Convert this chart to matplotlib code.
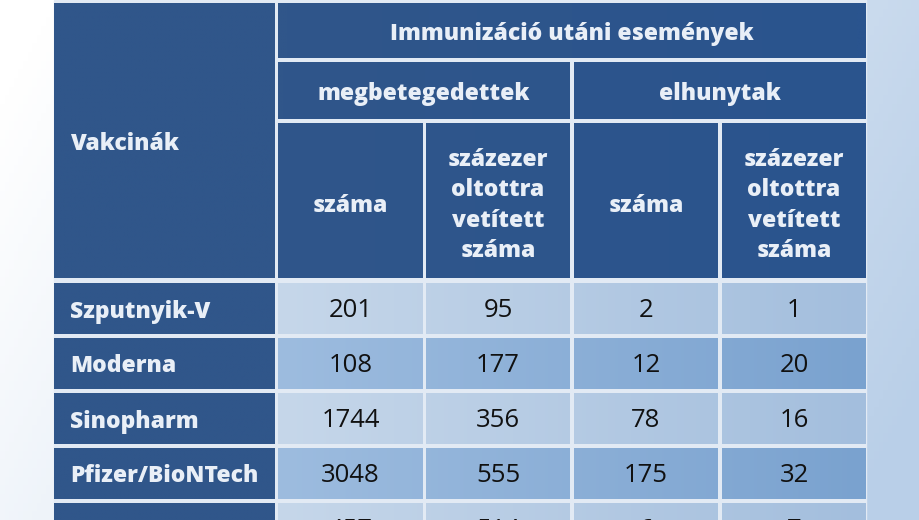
import numpy as np
import matplotlib
matplotlib.use('Agg')
import matplotlib.pyplot as plt
from matplotlib.colors import to_rgb

# table content
vaccines = ['Szputnyik-V', 'Moderna', 'Sinopharm', 'Pfizer/BioNTech', 'AstraZeneca']
sick_count = ['201', '108', '1744', '3048', '457']
sick_per100k = ['95', '177', '356', '555', '514']
dead_count = ['2', '12', '78', '175', '6']
dead_per100k = ['1', '20', '16', '32', '7']

title_top = 'Immunizáció utáni események'
group_labels = ['megbetegedettek', 'elhunytak']
sub_labels = ['száma', 'százezer\noltottra\nvetített\nszáma', 'száma',
              'százezer\noltottra\nvetített\nszáma']
first_header = 'Vakcinák'

# layout in pixels
col_edges = [(54, 275), (278, 423), (426, 570), (574, 718), (722, 866)]
head_rows = [(3, 58), (62, 119), (123, 278)]
row_top0, row_h, row_gap = 283, 51, 4

FONT = ['Open Sans', 'DejaVu Sans']
HEAD_TXT = '#e9eff7'
HEAD_SIZE = 16.5
NUM_SIZE = 18.5
DY = 3  # small nudge so bold text sits centred like the reference


def mix(c1, c2, t):
    a, b = np.array(to_rgb(c1)), np.array(to_rgb(c2))
    return a + (b - a) * t


def fill_cell(ax, x0, x1, y0, y1, cl, cr):
    # horizontal gradient from colour cl (table left) to cr (table right)
    left, right = 278, 866
    ts = np.linspace((x0 - left) / (right - left), (x1 - left) / (right - left), 32)
    img = np.array([[mix(cl, cr, t) for t in ts]])
    ax.imshow(img, extent=(x0, x1, y1, y0), aspect='auto', interpolation='bilinear', zorder=2)


fig = plt.figure(figsize=(9.2, 5.2), dpi=100)
ax = fig.add_axes([0, 0, 1, 1])
ax.set_xlim(0, 920)
ax.set_ylim(520, 0)
ax.axis('off')

# page background: white at left to light blue at right
X, Y = np.meshgrid(np.linspace(0, 1, 200), np.linspace(0, 1, 60))
T = np.clip(0.85 * X + 0.25 * Y - 0.05, 0, 1)[..., None]
bg = np.clip(np.ones(3) + (np.array(to_rgb('#b9cfe8')) - 1.0) * T, 0, 1)
ax.imshow(bg, extent=(0, 920, 520, 0), aspect='auto', zorder=0)

# gaps between cells
ax.add_patch(plt.Rectangle((54, 0), 812, 520, color='#e2eaf4', zorder=1))

dark_l, dark_r = '#30568a', '#2a548e'

# header: first column
fill_cell(ax, *col_edges[0], head_rows[0][0], head_rows[2][1], dark_l, dark_l)
ax.text(70, 141 + DY, first_header, ha='left', va='center', color=HEAD_TXT,
        fontsize=HEAD_SIZE, fontweight='heavy', family=FONT, zorder=3)

# header row 1
fill_cell(ax, col_edges[1][0], col_edges[4][1], *head_rows[0], dark_l, dark_r)
ax.text((col_edges[1][0] + col_edges[4][1]) / 2, sum(head_rows[0]) / 2 + DY, title_top,
        ha='center', va='center', color=HEAD_TXT, fontsize=HEAD_SIZE, fontweight='heavy',
        family=FONT, zorder=3)

# header row 2
for g, lab in enumerate(group_labels):
    x0, x1 = col_edges[1 + 2 * g][0], col_edges[2 + 2 * g][1]
    fill_cell(ax, x0, x1, *head_rows[1], dark_l, dark_r)
    ax.text((x0 + x1) / 2, sum(head_rows[1]) / 2 + DY, lab, ha='center', va='center',
            color=HEAD_TXT, fontsize=HEAD_SIZE, fontweight='heavy', family=FONT, zorder=3)

# header row 3
for j, lab in enumerate(sub_labels):
    x0, x1 = col_edges[1 + j]
    fill_cell(ax, x0, x1, *head_rows[2], dark_l, dark_r)
    ax.text((x0 + x1) / 2, sum(head_rows[2]) / 2 + 2 + DY, lab, ha='center', va='center',
            color=HEAD_TXT, fontsize=HEAD_SIZE, fontweight='heavy', family=FONT,
            linespacing=1.36, zorder=3)

# data rows
columns = [sick_count, sick_per100k, dead_count, dead_per100k]
for i, name in enumerate(vaccines):
    y0 = row_top0 + i * (row_h + row_gap)
    y1 = y0 + row_h
    yc = (y0 + y1) / 2
    fill_cell(ax, *col_edges[0], y0, y1, dark_l, dark_l)
    ax.text(70, yc + DY, name, ha='left', va='center', color=HEAD_TXT, fontsize=HEAD_SIZE,
            fontweight='heavy', family=FONT, zorder=3)
    if i % 2 == 0:
        cl, cr = '#c6d7ea', '#a3bedd'
    else:
        cl, cr = '#9dbcdf', '#7aa2cf'
    for j, vals in enumerate(columns):
        x0, x1 = col_edges[1 + j]
        fill_cell(ax, x0, x1, y0, y1, cl, cr)
        ax.text((x0 + x1) / 2, yc + 2, vals[i], ha='center', va='center',
                color='#111111', fontsize=NUM_SIZE, family=FONT, zorder=3)

fig.savefig('out.png', dpi=100)
